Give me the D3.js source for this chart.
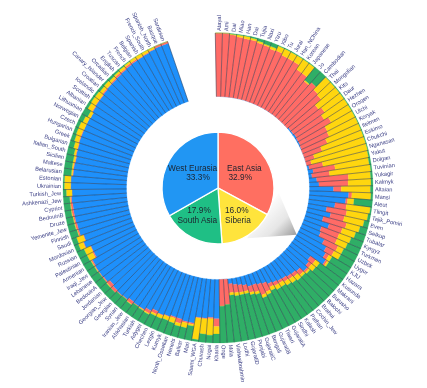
<!DOCTYPE html>
<html>
<head>
<meta charset="utf-8">
<script src="https://cdn.jsdelivr.net/npm/d3@7/dist/d3.min.js"></script>
<style>
  html, body { margin: 0; padding: 0; background: #fff; }
  svg { display: block; filter: blur(.35px); font-family: "Liberation Sans", Arial, sans-serif; }
</style>
</head>
<body>
<div id="chart"></div>
<script>
const populations = [
  "Atayal","Ami","Dai","Miao","Han","Dai","Tujia","Naxi","Yizu","Xibo",
  "Tu","Jurai","Han_NChina","Korean","Japanese","Jo","Cambodian","Thai","Mongolian","Kits",
  "Daur","Hezhen","Oroqen","Ulchi","Koryak","Itelmen","Eskimo","Chukchi","Nganasan","Yakut",
  "Dolgan","Tuvinian","Yukagir","Kalmyk","Altaian","Mansi","Aleut","Tlingit","Tajik_Pomiri","Even",
  "Selkup","Tubalar","Kyrgyz","Turkmen","Uzbek","Uygur","KJU","Hazara","Kusunda","Makrani",
  "Burusho","Balochi","Brahui","Cochin_Jew","Pathan","Kalash","Sindhi","GujaratiA","Tiwari","GujaratiB",
  "Bengali","GujaratiC","Punjabi","GujaratiD","Lodhi","Vishwabrahmin","Mala","Onge","Kharia","Nogai",
  "Chuvash","Saami_WGA","Mari","Balkar","Nenets","North_Ossetian","Kumyk","Lezgin","Chechen","Adygei",
  "Turkish","Abkhasian","Iranian_Jew","Syrian","Georgian","Georgian_Jew","Jordanian","BedouinA","Lebanese","Iraqi_Jew",
  "Armenian","Palestinian","Russian","Mordovian","Saudi","Finnish","Yemenite_Jew","Druze","BedouinB","Cypriot",
  "Ashkenazi_Jew","Turkish_Jew","Ukrainian","Estonian","Belarusian","Maltese","Sicilian","Italian_South","Bulgarian","Greek",
  "Hungarian","Czech","Norwegian","Lithuanian","Albanian","Scottish","Icelandic","Croatian","Canary_Islander","Orcadian",
  "English","Tuscan","French","Belgian","Spanish","French_South","Spanish_North","Basque","Sardinian"
];

// values, percent per population
const westEurasia = [
  0,0,0,0,0,0,0,0,0,0, 0,0,0,0,0,0,0,0,0,2,
  2,3,2,2,1,0,0,0,0,3, 8,5,12,15,38,62,58,42,30,38,
  28,40,30,32,42,50,54,60,37,40, 44,36,34,33,31,30,28,26,22,20,
  18,18,14,12,10,8,0,0,62,60, 62,62,72,72,70,70,72,74,72,76,
  80,80,79,82,83,82,80,84,85,85, 84,76,76,84,80,85,85,86,86,86,
  87,86,88,88,85,85,84,85,85,86, 86,86,86,85,87,88,88,89,90,90,
  91,92,93,94,94,95,96,97,97
];
const eastAsia = [
  100,100,98,96,95,95,93,92,90,91, 88,88,88,80,80,72,78,72,70,55,
  60,52,60,48,48,42,30,15,8,22, 35,28,50,46,12,5,3,18,32,22,
  38,22,30,28,24,14,6,3,10,6, 3,8,6,5,6,4,6,6,14,18,
  12,10,10,12,13,14,40,42,12,2, 1,1,2,2,7,2,1,1,5,5,
  1,1,5,1,1,5,6,2,1,1, 2,2,1,1,1,2,3,2,3,3,
  2,0,0,0,1,1,1,1,1,1, 1,0,0,0,1,1,1,2,1,2,
  3,2,3,2,1,1,1,3,3
];
const siberia = [
  0,0,1,3,4,3,3,2,4,8, 11,11,11,19,19,2,0,27,29,42,
  37,44,37,49,50,57,69,84,91,73, 54,65,35,36,46,30,10,38,34,32,
  22,22,20,18,10,12,6,3,8,8, 3,4,8,8,7,7,7,6,5,5,
  4,4,4,4,5,4,0,0,12,26, 24,34,3,8,5,8,6,5,3,2,
  1,0,1,0,0,0,1,0,0,1, 1,10,11,8,11,1,1,1,1,1,
  1,9,10,10,2,2,3,3,6,7, 8,9,7,5,8,8,8,5,6,4,
  3,4,3,4,5,4,3,0,0
];
const southAsia = [
  0,0,1,1,1,2,4,6,6,1, 1,1,1,1,1,26,22,1,1,1,
  1,1,1,1,1,1,1,1,1,2, 3,2,3,3,4,3,29,2,4,8,
  12,16,20,22,24,24,34,34,45,46, 50,52,52,54,56,59,59,62,59,57,
  66,68,72,72,72,74,60,58,14,12, 13,3,23,18,18,20,21,20,20,17,
  18,19,15,17,16,13,13,14,14,13, 13,12,12,7,8,12,11,11,10,10,
  10,5,2,2,12,12,12,11,8,6, 5,5,7,10,4,3,3,4,3,4,
  3,2,1,0,0,0,0,0,0
];
const regionNames = ["West Eurasia", "East Asia", "Siberia", "South Asia"];
const barColors = ["#1e90fb", "#ff6b66", "#ffd60f", "#2fae66"];

const pieNames = ["East Asia", "Siberia", "South Asia", "West Eurasia"];
const pieValues = [32.9, 16.0, 17.9, 33.3];
const pieColors = ["#ff6f61", "#ffe43c", "#1fbf85", "#2196f3"];

function setupDims() {
  return {
    width: 427,
    height: 388,
    cx: 218,
    cy: 188,
    inner: 91.5,
    outer: 155,
    pie: 56,
    label: 157,
    start: -1 * Math.PI / 180,
    end: 341 * Math.PI / 180
  };
}

function create(cont, dim) {
  const svg = cont.append("svg").attr("width", dim.width).attr("height", dim.height);
  const defs = svg.append("defs");
  const grad = defs.append("linearGradient")
    .attr("id", "callout")
    .attr("x1", "30%").attr("y1", "30%")
    .attr("x2", "100%").attr("y2", "95%");
  grad.append("stop").attr("offset", "0%").attr("stop-color", "#fff");
  grad.append("stop").attr("offset", "55%").attr("stop-color", "#e6e6e6");
  grad.append("stop").attr("offset", "100%").attr("stop-color", "#999");
  return svg.append("g").attr("transform", "translate(" + dim.cx + "," + dim.cy + ")");
}

function drawRing(main_g, dim) {
  const rows = populations.map((name, i) => ({
    i,
    name,
    "West Eurasia": westEurasia[i],
    "East Asia": eastAsia[i],
    "Siberia": siberia[i],
    "South Asia": southAsia[i]
  }));

  const d3x = d3.scaleBand().domain(d3.range(populations.length)).range([dim.start, dim.end]);
  const d3r = d3.scaleLinear().domain([0, 1]).range([dim.inner, dim.outer]);
  const series = d3.stack().keys(regionNames).offset(d3.stackOffsetExpand)(rows);
  const arc = d3.arc()
    .innerRadius(d => d3r(d[0]))
    .outerRadius(d => d3r(d[1]))
    .startAngle(d => d3x(d.data.i))
    .endAngle(d => d3x(d.data.i) + d3x.bandwidth());

  main_g.append("g").attr("class", "bars")
    .selectAll("g")
    .data(series)
    .join("g")
    .attr("fill", (d, i) => barColors[i])
    .selectAll("path")
    .data(d => d)
    .join("path")
    .attr("d", arc)
    .attr("stroke", (d, i, n) => d3.select(n[i].parentNode).attr("fill"))
    .attr("stroke-width", 0.25);

  // thin dark lines between populations
  const edges = d3x.domain().map(d => d3x(d)).concat([dim.end]);
  main_g.append("g").attr("class", "separators")
    .selectAll("line")
    .data(edges)
    .join("line")
    .attr("x1", d => d3.pointRadial(d, dim.inner)[0])
    .attr("y1", d => d3.pointRadial(d, dim.inner)[1])
    .attr("x2", d => d3.pointRadial(d, dim.outer)[0])
    .attr("y2", d => d3.pointRadial(d, dim.outer)[1])
    .attr("stroke", "#26324a")
    .attr("stroke-opacity", 0.85)
    .attr("stroke-width", 0.6);

  main_g.append("g").attr("class", "labels")
    .selectAll("text")
    .data(rows)
    .join("text")
    .attr("transform", d => {
      const a = d3x(d.i) + d3x.bandwidth() / 2;
      const deg = a * 180 / Math.PI - 90;
      const flip = a > Math.PI;
      return "rotate(" + deg + ") translate(" + dim.label + ",0)" + (flip ? " rotate(180)" : "");
    })
    .attr("text-anchor", d => (d3x(d.i) + d3x.bandwidth() / 2) > Math.PI ? "end" : "start")
    .attr("dy", "0.35em")
    .attr("font-size", 5.7)
    .attr("fill", "#3b3f85")
    .text(d => d.name);
}

function drawCallout(main_g, dim) {
  // grey wedge going from the Siberia slice out to the ring
  const corners = [[94.7, 61], [120.7, 91.5], [150, 58]];
  const line = d3.line();
  main_g.append("path")
    .attr("d", line(corners.map(c => d3.pointRadial(c[0] * Math.PI / 180, c[1]))) + "Z")
    .attr("fill", "url(#callout)");
}

function drawPie(main_g, dim) {
  const pie = d3.pie().sort(null)(pieValues);
  const arc = d3.arc().innerRadius(0).outerRadius(dim.pie);

  main_g.append("g").attr("class", "pie")
    .selectAll("path")
    .data(pie)
    .join("path")
    .attr("d", arc)
    .attr("fill", (d, i) => pieColors[i])
    .attr("stroke", "#fff")
    .attr("stroke-width", 1.3);

  const labelOffsets = [
    { name: [9, -17.5], pct: [10.5, -8], anchor: "start" },
    { name: [7, 34.5], pct: [7, 25], anchor: "start" },
    { name: [-40.5, 34.5], pct: [-19, 25], anchor: "start", pctAnchor: "middle" },
    { name: [-50, -17.5], pct: [-20, -8], anchor: "start", pctAnchor: "middle" }
  ];
  const txt = main_g.append("g").attr("class", "pie-labels")
    .attr("font-size", 8.3)
    .attr("fill", "#1d2430");
  labelOffsets.forEach((o, i) => {
    txt.append("text").attr("x", o.name[0]).attr("y", o.name[1])
      .attr("text-anchor", o.anchor).text(pieNames[i]);
    txt.append("text").attr("x", o.pct[0]).attr("y", o.pct[1])
      .attr("text-anchor", o.pctAnchor || o.anchor).text(pieValues[i].toFixed(1) + "%");
  });
}

const dim = setupDims();
const main_g = create(d3.select("#chart"), dim);
drawRing(main_g, dim);
drawCallout(main_g, dim);
drawPie(main_g, dim);
</script>
</body>
</html>
